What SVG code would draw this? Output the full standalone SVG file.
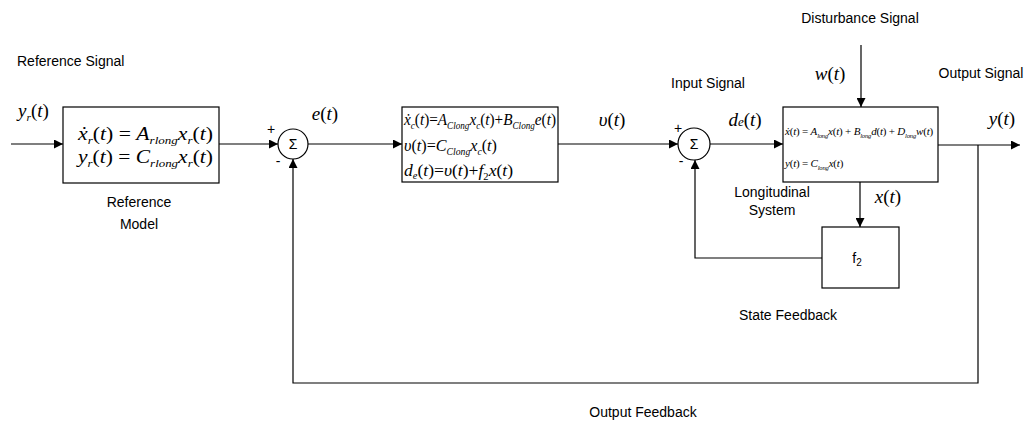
<svg xmlns="http://www.w3.org/2000/svg" width="1026" height="428" viewBox="0 0 1026 428">
<style>
.lbl{font-family:"Liberation Sans",Arial,sans-serif;font-size:14px;fill:#000}
.m{font-family:"Liberation Serif","Times New Roman",serif;fill:#000}
.i{font-style:italic}
.box{fill:#fff;stroke:#000;stroke-width:1.2}
.ln{fill:none;stroke:#000;stroke-width:1.2}
.arr{fill:none;stroke:#000;stroke-width:1.2;marker-end:url(#ah)}
.sub{font-size:60%}
</style>
<defs>
<marker id="ah" viewBox="0 0 10 10" refX="10" refY="5" markerWidth="10" markerHeight="9" markerUnits="userSpaceOnUse" orient="auto">
<path d="M0,0 L10,5 L0,10 Z" fill="#000"/>
</marker>
</defs>
<rect width="1026" height="428" fill="#fff"/>

<g id="connectors">
<line class="arr" x1="11" y1="144" x2="63" y2="144"/>
<line class="arr" x1="219" y1="144" x2="278" y2="144"/>
<line class="arr" x1="308" y1="144" x2="402" y2="144"/>
<line class="arr" x1="558" y1="144" x2="678" y2="144"/>
<line class="arr" x1="710" y1="144" x2="783" y2="144"/>
<line class="arr" x1="938" y1="145" x2="1020" y2="145"/>
<polyline class="arr" points="978,145 978,383 293,383 293,159"/>
<line class="arr" x1="861" y1="45" x2="861" y2="107"/>
<line class="arr" x1="860" y1="182" x2="860" y2="227"/>
<polyline class="arr" points="822,258 695,258 695,160"/>
</g>

<g id="reference-model">
<rect class="box" x="63" y="107" width="156" height="76"/>
<text class="m" x="78" y="140" font-size="18" textLength="135" lengthAdjust="spacingAndGlyphs"><tspan class="i">ẋ</tspan><tspan class="i sub" dy="4">r</tspan><tspan dy="-4">(</tspan><tspan class="i">t</tspan>) = <tspan class="i">A</tspan><tspan class="i sub" dy="4">rlong</tspan><tspan class="i" dy="-4">x</tspan><tspan class="i sub" dy="4">r</tspan><tspan dy="-4">(</tspan><tspan class="i">t</tspan>)</text>
<text class="m" x="78" y="163" font-size="18" textLength="135" lengthAdjust="spacingAndGlyphs"><tspan class="i">y</tspan><tspan class="i sub" dy="4">r</tspan><tspan dy="-4">(</tspan><tspan class="i">t</tspan>) = <tspan class="i">C</tspan><tspan class="i sub" dy="4">rlong</tspan><tspan class="i" dy="-4">x</tspan><tspan class="i sub" dy="4">r</tspan><tspan dy="-4">(</tspan><tspan class="i">t</tspan>)</text>
</g>

<g id="sum1">
<circle class="box" cx="293" cy="144" r="15"/>
<text class="lbl" x="293" y="149" text-anchor="middle" font-size="13">Σ</text>
<text class="lbl" x="271" y="134" text-anchor="middle" font-size="12">+</text>
<text class="lbl" x="278" y="166" text-anchor="middle" font-size="12">-</text>
</g>

<g id="controller">
<rect class="box" x="402" y="107" width="156" height="75"/>
<text class="m" x="404" y="125" font-size="16" textLength="152" lengthAdjust="spacingAndGlyphs"><tspan class="i">ẋ</tspan><tspan class="i sub" dy="4">c</tspan><tspan dy="-4">(</tspan><tspan class="i">t</tspan>)=<tspan class="i">A</tspan><tspan class="i sub" dy="4">Clong</tspan><tspan class="i" dy="-4">x</tspan><tspan class="i sub" dy="4">c</tspan><tspan dy="-4">(</tspan><tspan class="i">t</tspan>)+<tspan class="i">B</tspan><tspan class="i sub" dy="4">Clong</tspan><tspan class="i" dy="-4">e</tspan>(<tspan class="i">t</tspan>)</text>
<text class="m" x="404" y="151" font-size="16" textLength="93" lengthAdjust="spacingAndGlyphs"><tspan class="i">υ</tspan>(<tspan class="i">t</tspan>)=<tspan class="i">C</tspan><tspan class="i sub" dy="4">Clong</tspan><tspan class="i" dy="-4">x</tspan><tspan class="i sub" dy="4">c</tspan><tspan dy="-4">(</tspan><tspan class="i">t</tspan>)</text>
<text class="m" x="404" y="176" font-size="16" textLength="109" lengthAdjust="spacingAndGlyphs"><tspan class="i">d</tspan><tspan class="i sub" dy="3">e</tspan><tspan dy="-3">(</tspan><tspan class="i">t</tspan>)=<tspan class="i">υ</tspan>(<tspan class="i">t</tspan>)+<tspan class="i">f</tspan><tspan class="sub" dy="4">2</tspan><tspan class="i" dy="-4">x</tspan>(<tspan class="i">t</tspan>)</text>
</g>

<g id="sum2">
<circle class="box" cx="694" cy="144" r="16"/>
<text class="lbl" x="694" y="149" text-anchor="middle" font-size="13">Σ</text>
<text class="lbl" x="678" y="133" text-anchor="middle" font-size="12">+</text>
<text class="lbl" x="681" y="166" text-anchor="middle" font-size="12">-</text>
</g>

<g id="longitudinal-system">
<rect class="box" x="783" y="107" width="155" height="75"/>
<text class="m" x="785" y="135" font-size="11" letter-spacing="-0.2"><tspan class="i">ẋ</tspan>(<tspan class="i">t</tspan>) = <tspan class="i">A</tspan><tspan class="i sub" dy="3">long</tspan><tspan class="i" dy="-3">x</tspan>(<tspan class="i">t</tspan>) + <tspan class="i">B</tspan><tspan class="i sub" dy="3">long</tspan><tspan class="i" dy="-3">d</tspan>(<tspan class="i">t</tspan>) + <tspan class="i">D</tspan><tspan class="i sub" dy="3">long</tspan><tspan class="i" dy="-3">w</tspan>(<tspan class="i">t</tspan>)</text>
<text class="m" x="785" y="167" font-size="11" letter-spacing="-0.2"><tspan class="i">y</tspan>(<tspan class="i">t</tspan>) = <tspan class="i">C</tspan><tspan class="i sub" dy="3">long</tspan><tspan class="i" dy="-3">x</tspan>(<tspan class="i">t</tspan>)</text>
</g>

<g id="state-feedback">
<rect class="box" x="822" y="227" width="77" height="61"/>
<text class="lbl" x="857" y="263" text-anchor="middle" font-size="14">f<tspan font-size="10" dy="3">2</tspan></text>
</g>

<g id="labels">
<text class="lbl" x="17" y="66">Reference Signal</text>
<text class="m" x="18" y="117" font-size="19"><tspan class="i">y</tspan><tspan class="i sub" dy="4">r</tspan><tspan dy="-4">(</tspan><tspan class="i">t</tspan>)</text>
<text class="lbl" x="139" y="207" text-anchor="middle">Reference</text>
<text class="lbl" x="139" y="229" text-anchor="middle">Model</text>
<text class="m i" x="325" y="120" font-size="19" text-anchor="middle">e<tspan font-style="normal">(</tspan>t<tspan font-style="normal">)</tspan></text>
<text class="m i" x="612" y="126" font-size="19" text-anchor="middle">υ<tspan font-style="normal">(</tspan>t<tspan font-style="normal">)</tspan></text>
<text class="lbl" x="708" y="88" text-anchor="middle">Input Signal</text>
<text class="m" x="745" y="126" font-size="19" text-anchor="middle"><tspan class="i">d</tspan><tspan class="i" font-size="13">e</tspan>(<tspan class="i">t</tspan>)</text>
<text class="lbl" x="860" y="23" text-anchor="middle">Disturbance Signal</text>
<text class="m i" x="830" y="80" font-size="19" text-anchor="middle">w<tspan font-style="normal">(</tspan>t<tspan font-style="normal">)</tspan></text>
<text class="lbl" x="981" y="78" text-anchor="middle">Output Signal</text>
<text class="m i" x="1002" y="125" font-size="19" text-anchor="middle">y<tspan font-style="normal">(</tspan>t<tspan font-style="normal">)</tspan></text>
<text class="m i" x="888" y="203" font-size="19" text-anchor="middle">x<tspan font-style="normal">(</tspan>t<tspan font-style="normal">)</tspan></text>
<text class="lbl" x="772" y="197" text-anchor="middle">Longitudinal</text>
<text class="lbl" x="772" y="215" text-anchor="middle">System</text>
<text class="lbl" x="788" y="320" text-anchor="middle">State Feedback</text>
<text class="lbl" x="643" y="417" text-anchor="middle">Output Feedback</text>
</g>
</svg>
